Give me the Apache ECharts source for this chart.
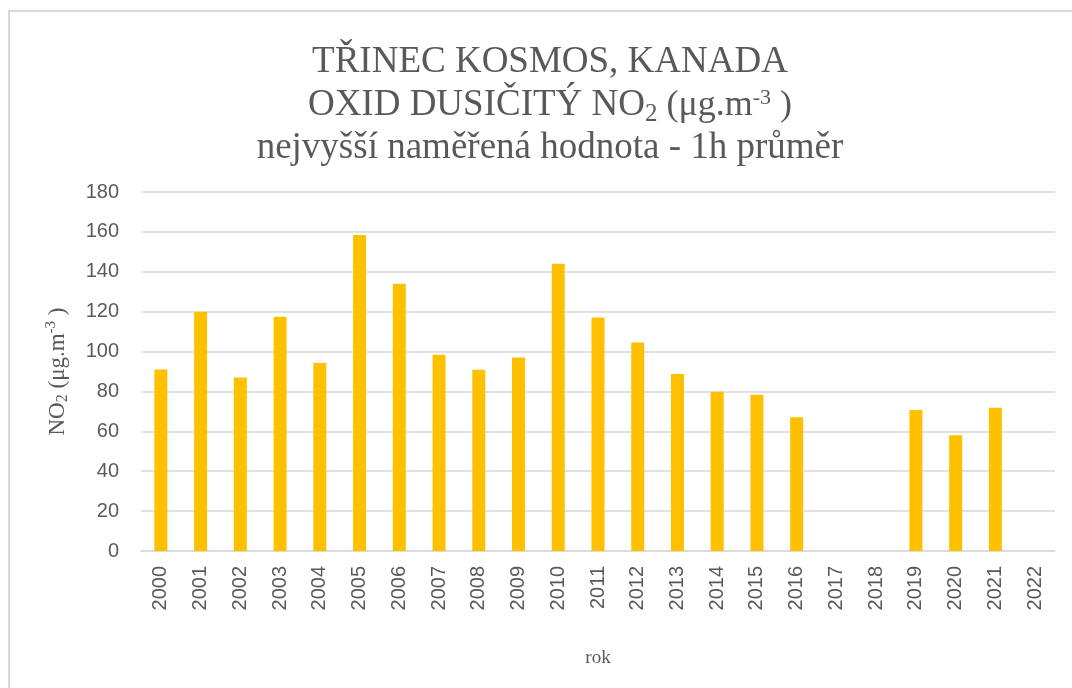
<!DOCTYPE html>
<html>
<head>
<meta charset="utf-8">
<script src="https://cdn.jsdelivr.net/npm/echarts@6/dist/echarts.min.js"></script>
<style>html,body{margin:0;padding:0;background:#fff}#c{width:1072px;height:688px}</style>
</head>
<body>
<div id="c"></div>
<script>
const years = ['2000','2001','2002','2003','2004','2005','2006','2007','2008','2009','2010','2011','2012','2013','2014','2015','2016','2017','2018','2019','2020','2021','2022'];
const no2Max = [91, 120, 87, 117.5, 94.3, 158.5, 134, 98.4, 90.9, 97, 144, 117.1, 104.5, 88.8, 79.9, 78.3, 67, null, null, 70.7, 58, 71.8, null];
const yTicks = [0, 20, 40, 60, 80, 100, 120, 140, 160, 180];

const chart = echarts.init(document.getElementById('c'), null, {renderer: 'canvas'});
const serif = '"Liberation Serif", "Times New Roman", serif';
const sans = '"Liberation Sans", Arial, sans-serif';
const grey = '#595959';
chart.setOption({
  animation: false,
  backgroundColor: '#fff',
  graphic: [{
    type: 'rect', shape: {x: 9, y: 11, width: 1200, height: 800},
    style: {fill: 'none', stroke: '#d9d9d9', lineWidth: 2}, silent: true
  }],
  title: {
    left: 545, textAlign: 'center', top: 36,
    text: '{a|TŘINEC KOSMOS, KANADA}\n{a|OXID DUSIČITÝ NO}{s|2}{b| (μg.m}{p|-3}{b| )}\n{a|nejvyšší naměřená hodnota - 1h průměr}',
    textStyle: {
      fontFamily: serif, color: grey, fontWeight: 'normal', fontSize: 37, lineHeight: 43,
      rich: {
        a: {fontFamily: serif, color: grey, fontSize: 37, lineHeight: 43},
        b: {fontFamily: serif, color: grey, fontSize: 36, lineHeight: 43},
        s: {fontFamily: serif, color: grey, fontSize: 25, lineHeight: 22, verticalAlign: 'bottom'},
        p: {fontFamily: serif, color: grey, fontSize: 22, lineHeight: 22, verticalAlign: 'top', padding: [3,0,0,0]}
      }
    }
  },
  grid: {left: 141, right: 17, top: 192, bottom: 137, containLabel: false},
  xAxis: {
    type: 'category', data: years,
    name: 'rok', nameLocation: 'middle', nameGap: 98,
    nameTextStyle: {fontFamily: serif, color: grey, fontSize: 19},
    axisLine: {lineStyle: {color: '#d9d9d9', width: 1.5}},
    axisTick: {show: false},
    axisLabel: {rotate: 90, fontFamily: sans, fontSize: 20, color: grey, margin: 15, interval: 0}
  },
  yAxis: {
    type: 'value', min: yTicks[0], max: yTicks[yTicks.length-1], interval: 20,
    name: '{a|NO}{s|2}{a| (μg.m}{p|-3}{a| )}',
    nameLocation: 'middle', nameGap: 70,
    nameTextStyle: {
      fontFamily: serif, color: grey, fontSize: 23,
      rich: {
        a: {fontFamily: serif, color: grey, fontSize: 23, lineHeight: 27},
        s: {fontFamily: serif, color: grey, fontSize: 16, lineHeight: 15, verticalAlign: 'bottom'},
        p: {fontFamily: serif, color: grey, fontSize: 15, lineHeight: 15, verticalAlign: 'top'}
      }
    },
    axisLine: {show: false},
    axisTick: {show: false},
    splitLine: {lineStyle: {color: '#d9d9d9', width: 1.5}},
    axisLabel: {fontFamily: sans, fontSize: 20, color: grey, margin: 22}
  },
  series: [{
    type: 'bar', data: no2Max, barWidth: 13,
    itemStyle: {color: '#FFC000'}
  }]
});
</script>
</body>
</html>
